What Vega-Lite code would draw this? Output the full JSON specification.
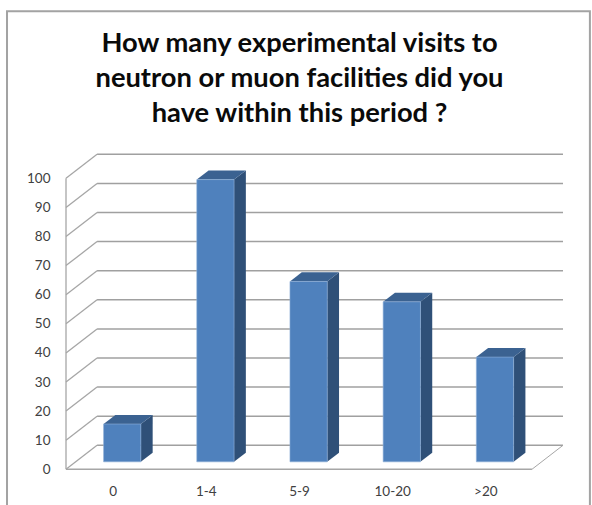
{
"$schema":"https://vega.github.io/schema/vega-lite/v6.json",
"width":497,"height":315,
"autosize":{"type":"none"},
"padding":{"left":66,"top":154.3,"right":29,"bottom":35.7},
"background":"white",
"title":{"text":["How many experimental visits to","neutron or muon facilities did you","have within this period ?"],"font":"Lato","fontSize":27.3,"fontWeight":"bold","color":"#0a0a0a","lineHeight":35,"anchor":"middle","frame":"group","dx":-15,"offset":-117.5},
"config":{"view":{"stroke":null},"axis":{"title":null,"grid":false,"domain":false,"ticks":false,"labelFont":"Lato","labelFontSize":13.5,"labelColor":"#404040"}},
"datasets":{
"bars":[{"category":"0","value":13},{"category":"1-4","value":97},{"category":"5-9","value":62},{"category":"10-20","value":55},{"category":">20","value":36}],
"grid":[{"v":0},{"v":10},{"v":20},{"v":30},{"v":40},{"v":50},{"v":60},{"v":70},{"v":80},{"v":90},{"v":100}],
"one":[{"frame":1}]
},
"layer":[
{"data":{"name":"one"},
 "mark":{"type":"rect","fill":null,"stroke":"#a3a3a3","strokeWidth":2,"clip":false},
 "encoding":{
  "x":{"datum":-0.633,"type":"quantitative","scale":{"domain":[0,5.3333],"nice":false,"zero":false},
    "axis":{"title":null,"values":[0.5,1.5,2.5,3.5,4.5],"labelPadding":15,"labelExpr":"['0','1-4','5-9','10-20','>20'][floor(datum.value)]"}},
  "x2":{"datum":5.622},
  "y":{"datum":157.4,"type":"quantitative","scale":{"domain":[0,108.25],"nice":false,"zero":false},
    "axis":{"title":null,"values":[0,10,20,30,40,50,60,70,80,90,100],"labelPadding":16}},
  "y2":{"datum":-20}
 }},
{"data":{"name":"grid"},
 "transform":[{"calculate":"datum.v+8.25","as":"yb"}],
 "mark":{"type":"rule","stroke":"#a0a0a0","strokeWidth":1.5},
 "encoding":{
  "x":{"datum":0.3333,"type":"quantitative","axis":{"title":null,"values":[0.5,1.5,2.5,3.5,4.5],"labelPadding":15,"labelExpr":"['0','1-4','5-9','10-20','>20'][floor(datum.value)]"},"scale":{"domain":[0,5.3333],"nice":false,"zero":false}},
  "x2":{"datum":5.3333},
  "y":{"field":"yb","type":"quantitative","axis":{"title":null,"values":[0,10,20,30,40,50,60,70,80,90,100],"labelPadding":16},"scale":{"domain":[0,108.25],"nice":false,"zero":false}}
 }},
{"data":{"name":"grid"},
 "transform":[{"calculate":"datum.v+8.25","as":"yb"}],
 "mark":{"type":"rule","stroke":"#a6a6a6","strokeWidth":1.3},
 "encoding":{
  "x":{"datum":0,"type":"quantitative","axis":{"title":null,"values":[0.5,1.5,2.5,3.5,4.5],"labelPadding":15,"labelExpr":"['0','1-4','5-9','10-20','>20'][floor(datum.value)]"},"scale":{"domain":[0,5.3333],"nice":false,"zero":false}},
  "x2":{"datum":0.3333},
  "y":{"field":"v","type":"quantitative","axis":{"title":null,"values":[0,10,20,30,40,50,60,70,80,90,100],"labelPadding":16},"scale":{"domain":[0,108.25],"nice":false,"zero":false}},
  "y2":{"field":"yb"}
 }},
{"data":{"name":"one"},
 "mark":{"type":"rule","stroke":"#a6a6a6","strokeWidth":1.3},
 "encoding":{
  "x":{"datum":0,"type":"quantitative","axis":{"title":null,"values":[0.5,1.5,2.5,3.5,4.5],"labelPadding":15,"labelExpr":"['0','1-4','5-9','10-20','>20'][floor(datum.value)]"},"scale":{"domain":[0,5.3333],"nice":false,"zero":false}},
  "y":{"datum":0,"type":"quantitative","axis":{"title":null,"values":[0,10,20,30,40,50,60,70,80,90,100],"labelPadding":16},"scale":{"domain":[0,108.25],"nice":false,"zero":false}},
  "y2":{"datum":100}
 }},
{"data":{"name":"one"},
 "mark":{"type":"rule","stroke":"#a6a6a6","strokeWidth":1.5},
 "encoding":{
  "x":{"datum":0,"type":"quantitative","axis":{"title":null,"values":[0.5,1.5,2.5,3.5,4.5],"labelPadding":15,"labelExpr":"['0','1-4','5-9','10-20','>20'][floor(datum.value)]"},"scale":{"domain":[0,5.3333],"nice":false,"zero":false}},
  "x2":{"datum":5},
  "y":{"datum":0,"type":"quantitative","axis":{"title":null,"values":[0,10,20,30,40,50,60,70,80,90,100],"labelPadding":16},"scale":{"domain":[0,108.25],"nice":false,"zero":false}}
 }},
{"data":{"name":"one"},
 "mark":{"type":"rule","stroke":"#a6a6a6","strokeWidth":1},
 "encoding":{
  "x":{"datum":5,"type":"quantitative","axis":{"title":null,"values":[0.5,1.5,2.5,3.5,4.5],"labelPadding":15,"labelExpr":"['0','1-4','5-9','10-20','>20'][floor(datum.value)]"},"scale":{"domain":[0,5.3333],"nice":false,"zero":false}},
  "x2":{"datum":5.3333},
  "y":{"datum":0,"type":"quantitative","axis":{"title":null,"values":[0,10,20,30,40,50,60,70,80,90,100],"labelPadding":16},"scale":{"domain":[0,108.25],"nice":false,"zero":false}},
  "y2":{"datum":8.25}
 }},
{"data":{"name":"bars"},
 "transform":[
  {"calculate":"indexof(['0','1-4','5-9','10-20','>20'],datum.category)","as":"i"},
  {"calculate":"[0.31,0.69]","as":"depth"},
  {"flatten":["depth"]},
  {"calculate":"datum.i+0.7+datum.depth/3","as":"xr"},
  {"calculate":"datum.value+8.25*datum.depth","as":"yt"},
  {"calculate":"8.25*datum.depth","as":"yb"}
 ],
 "mark":{"type":"area","orient":"vertical","color":"#2f5078"},
 "encoding":{
  "x":{"field":"xr","type":"quantitative","axis":{"title":null,"values":[0.5,1.5,2.5,3.5,4.5],"labelPadding":15,"labelExpr":"['0','1-4','5-9','10-20','>20'][floor(datum.value)]"},"scale":{"domain":[0,5.3333],"nice":false,"zero":false}},
  "y":{"field":"yt","type":"quantitative","axis":{"title":null,"values":[0,10,20,30,40,50,60,70,80,90,100],"labelPadding":16},"stack":null,"scale":{"domain":[0,108.25],"nice":false,"zero":false}},
  "y2":{"field":"yb"},
  "detail":{"field":"category"}
 }},
{"data":{"name":"bars"},
 "transform":[
  {"calculate":"indexof(['0','1-4','5-9','10-20','>20'],datum.category)","as":"i"},
  {"calculate":"[0.31,0.69]","as":"depth"},
  {"flatten":["depth"]},
  {"calculate":"datum.i+0.3+datum.depth/3","as":"xl"},
  {"calculate":"datum.i+0.7+datum.depth/3","as":"xr"},
  {"calculate":"datum.value+8.25*datum.depth","as":"yt"}
 ],
 "mark":{"type":"area","orient":"horizontal","color":"#3b6291"},
 "encoding":{
  "y":{"field":"yt","type":"quantitative","axis":{"title":null,"values":[0,10,20,30,40,50,60,70,80,90,100],"labelPadding":16},"scale":{"domain":[0,108.25],"nice":false,"zero":false}},
  "x":{"field":"xl","type":"quantitative","axis":{"title":null,"values":[0.5,1.5,2.5,3.5,4.5],"labelPadding":15,"labelExpr":"['0','1-4','5-9','10-20','>20'][floor(datum.value)]"},"stack":null,"scale":{"domain":[0,5.3333],"nice":false,"zero":false}},
  "x2":{"field":"xr"},
  "detail":{"field":"category"}
 }},
{"data":{"name":"bars"},
 "transform":[
  {"calculate":"indexof(['0','1-4','5-9','10-20','>20'],datum.category)","as":"i"},
  {"calculate":"datum.i+0.3+0.31/3","as":"xl"},
  {"calculate":"datum.i+0.7+0.31/3","as":"xr"},
  {"calculate":"datum.value+8.25*0.31","as":"yt"},
  {"calculate":"8.25*0.31","as":"yb"}
 ],
 "mark":{"type":"rect","fill":"#4f81bd","stroke":"#8fb0d8","strokeWidth":0.6},
 "encoding":{
  "x":{"field":"xl","type":"quantitative","axis":{"title":null,"values":[0.5,1.5,2.5,3.5,4.5],"labelPadding":15,"labelExpr":"['0','1-4','5-9','10-20','>20'][floor(datum.value)]"},"scale":{"domain":[0,5.3333],"nice":false,"zero":false}},
  "x2":{"field":"xr"},
  "y":{"field":"yt","type":"quantitative","axis":{"title":null,"values":[0,10,20,30,40,50,60,70,80,90,100],"labelPadding":16},"scale":{"domain":[0,108.25],"nice":false,"zero":false}},
  "y2":{"field":"yb"}
 }}
]
}
